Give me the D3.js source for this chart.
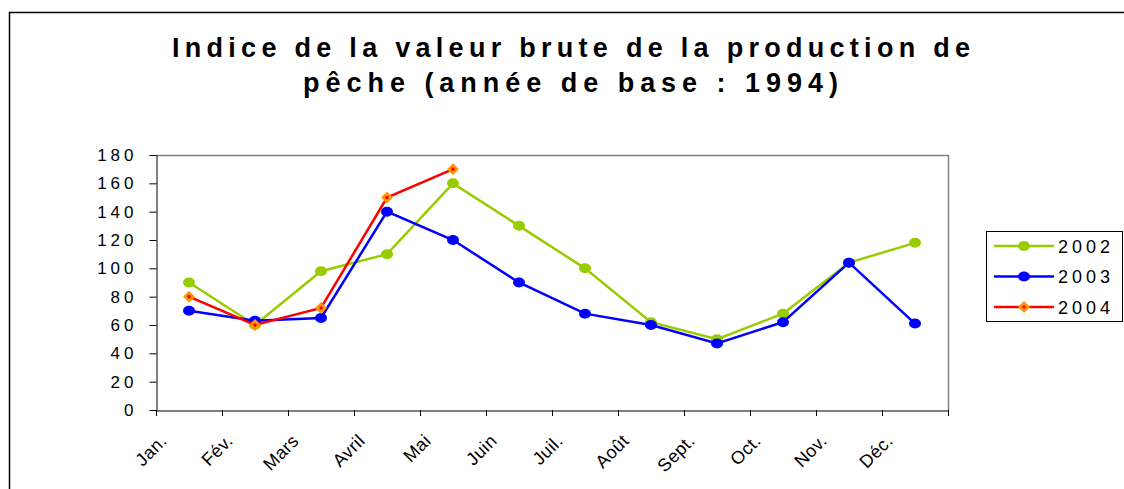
<!DOCTYPE html>
<html>
<head>
<meta charset="utf-8">
<script src="https://cdn.jsdelivr.net/npm/d3@7/dist/d3.min.js"></script>
<style>
  body { margin: 0; background: #fff; }
  text { font-family: "Liberation Sans", Arial, sans-serif; }
</style>
</head>
<body>
<script>
// months and index values
var months     = ["Jan.", "Fév.", "Mars", "Avril", "Mai", "Juin", "Juil.", "Août", "Sept.", "Oct.", "Nov.", "Déc."];
var values2002 = [90, 60, 98, 110, 160, 130, 100, 62, 50, 68, 104, 118];
var values2003 = [70, 63, 65, 140, 120, 90, 68, 60, 47, 62, 104, 61];
var values2004 = [80, 60, 72, 150, 170];
var yTicks     = [0, 20, 40, 60, 80, 100, 120, 140, 160, 180];
var titleLines = ["Indice de la valeur brute de la production de", "pêche (année de base : 1994)"];

var width = 1124, height = 489;
var plotLeft = 156, plotRight = 948, plotTop = 155, plotBottom = 410;

var series = [
  {name: "2002", values: values2002, color: "#99cc00", marker: "circle"},
  {name: "2003", values: values2003, color: "#0000ff", marker: "circle"},
  {name: "2004", values: values2004, color: "#ff0000", marker: "diamond"}
];

var svg = d3.select("body").append("svg")
    .attr("width", width)
    .attr("height", height);

// outer frame (only top and left edges visible)
svg.append("path")
    .attr("d", "M9.5," + height + "V12.5H" + width)
    .attr("fill", "none")
    .attr("stroke", "#000")
    .attr("stroke-width", 1.5);

// title
svg.selectAll("text.title")
    .data(titleLines)
  .enter().append("text")
    .attr("class", "title")
    .attr("x", function (d, i) { return i === 0 ? 172 : 303; })
    .attr("y", function (d, i) { return 57 + i * 35; })
    .attr("textLength", function (d, i) { return i === 0 ? 798 : 535; })
    .attr("lengthAdjust", "spacing")
    .attr("font-size", 27)
    .attr("font-weight", "bold")
    .attr("fill", "#000")
    .text(function (d) { return d; });

var x = d3.scaleBand().domain(months).range([plotLeft, plotRight]).padding(0);
var y = d3.scaleLinear().domain([0, 180]).range([plotBottom, plotTop]);

// plot area border (top / right in grey)
svg.append("path")
    .attr("d", "M" + plotLeft + "," + (plotTop + 0.5) + "H" + (plotRight + 0.5) + "V" + plotBottom)
    .attr("fill", "none")
    .attr("stroke", "#808080")
    .attr("stroke-width", 1.5);

// y axis
var yAxis = svg.append("g")
    .attr("transform", "translate(" + (plotLeft + 0.5) + ",0)")
    .call(d3.axisLeft(y).tickValues(yTicks).tickSize(7).tickPadding(12).tickSizeOuter(0));
yAxis.select(".domain").attr("stroke", "#000");
yAxis.selectAll(".tick line").attr("stroke", "#000");
yAxis.selectAll(".tick text")
    .attr("font-family", "'Liberation Sans', Arial, sans-serif")
    .attr("font-size", 17)
    .attr("letter-spacing", "4px")
    .attr("fill", "#000");

// x axis
var xAxis = svg.append("g")
    .attr("transform", "translate(0," + (plotBottom + 0.5) + ")")
    .call(d3.axisBottom(x).tickSize(0).tickSizeOuter(0).tickFormat(""));
xAxis.select(".domain").attr("stroke", "#000");

// tick marks at the category boundaries
var boundaries = months.map(function (m) { return x(m); }).concat([plotRight]);
svg.append("g").selectAll("line")
    .data(boundaries)
  .enter().append("line")
    .attr("x1", function (d) { return Math.round(d) + 0.5; })
    .attr("x2", function (d) { return Math.round(d) + 0.5; })
    .attr("y1", plotBottom)
    .attr("y2", plotBottom + 6)
    .attr("stroke", "#000");

// rotated month labels
svg.append("g").selectAll("text")
    .data(months)
  .enter().append("text")
    .attr("transform", function (d) {
        return "translate(" + (x(d) + x.bandwidth() / 2 - 21) + ",442) rotate(-45)";
    })
    .attr("text-anchor", "end")
    .attr("font-size", 18)
    .attr("letter-spacing", "0.4px")
    .attr("fill", "#000")
    .text(function (d) { return d; });

var cx = function (d, i) { return x(months[i]) + x.bandwidth() / 2; };
var line = d3.line()
    .x(function (d, i) { return cx(d, i); })
    .y(function (d) { return y(d); });

var drawMarker = function (g, s, px, py) {
    if (s.marker === "circle") {
        g.append("ellipse")
            .attr("cx", px).attr("cy", py)
            .attr("rx", 6).attr("ry", 5)
            .attr("fill", s.color);
    } else {
        g.append("path")
            .attr("d", "M" + px + "," + (py - 6) + "L" + (px + 6) + "," + py +
                       "L" + px + "," + (py + 6) + "L" + (px - 6) + "," + py + "Z")
            .attr("fill", "#ff9900");
        g.append("circle")
            .attr("cx", px).attr("cy", py).attr("r", 1.8)
            .attr("fill", s.color);
    }
};

series.forEach(function (s) {
    var g = svg.append("g");
    g.append("path")
        .datum(s.values)
        .attr("d", line)
        .attr("fill", "none")
        .attr("stroke", s.color)
        .attr("stroke-width", 2.5);
    s.values.forEach(function (v, i) {
        drawMarker(g, s, cx(v, i), y(v));
    });
});

// legend
var legend = svg.append("g");
legend.append("rect")
    .attr("x", 986.5).attr("y", 231.5)
    .attr("width", 136).attr("height", 90)
    .attr("fill", "#fff")
    .attr("stroke", "#000");

series.forEach(function (s, i) {
    var ly = 246 + i * 30.5;
    legend.append("line")
        .attr("x1", 994).attr("x2", 1054)
        .attr("y1", ly).attr("y2", ly)
        .attr("stroke", s.color)
        .attr("stroke-width", 2.5);
    drawMarker(legend, s, 1024, ly);
    legend.append("text")
        .attr("x", 1058).attr("y", ly + 6.5)
        .attr("font-size", 18)
        .attr("letter-spacing", "4px")
        .attr("fill", "#000")
        .text(s.name);
});
</script>
</body>
</html>
